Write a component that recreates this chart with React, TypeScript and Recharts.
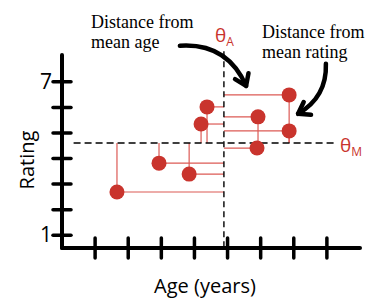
import {
  ComposedChart,
  XAxis,
  YAxis,
  Scatter,
  ReferenceLine,
  Customized,
} from "recharts";

const ages = [6.86, 4.38, 5.92, 4.2, 6.86, 5.89, 2.93, 3.84, 1.66];
const ratings = [6.49, 6.02, 5.63, 5.35, 5.08, 4.41, 3.82, 3.39, 2.69];
const meanAge = 4.89;
const meanRating = 4.61;
const ageTicks = [1, 2, 3, 4, 5, 6, 7, 8];
const ratingTicks = [1, 2, 3, 4, 5, 6, 7];
const labelledRatings = [1, 7];

// arrow annotations, in data units: [start, tip]
const arrowAges = [
  [3.56, 5.56],
  [7.97, 7.13],
];
const arrowRatings = [
  [8.41, 6.84],
  [7.71, 5.75],
];
const arrowBends = [-0.35, -0.3];

const points = ages.map((a, i) => ({ age: a, rating: ratings[i] }));

const RED = "#c9342d";
const LINE_RED = "#dc5a55";
const SANS = "'Open Sans', sans-serif";
const SERIF = "'Liberation Serif', serif";

const YTick = (props: any) => {
  const { x, y, payload } = props;
  return (
    <g>
      <line x1={x - 9} x2={x + 9} y1={y} y2={y} stroke="#000" strokeWidth={3.5} strokeLinecap="round" />
      {labelledRatings.includes(payload.value) && (
        <text x={x - 10} y={y + 7} textAnchor="end" fontSize={21} fontFamily={SANS} fill="#000">
          {payload.value}
        </text>
      )}
    </g>
  );
};

const XTick = (props: any) => {
  const { x, y } = props;
  return (
    <line x1={x} x2={x} y1={y - 10} y2={y + 10} stroke="#000" strokeWidth={3.5} strokeLinecap="round" />
  );
};

const Dot = (props: any) => <circle cx={props.cx} cy={props.cy} r={7.5} fill={RED} />;

const makeArrow = (bend: number) => (props: any) => {
  const { x1, y1, x2, y2 } = props;
  const dx = x2 - x1;
  const dy = y2 - y1;
  const cx = (x1 + x2) / 2 - dy * bend;
  const cy = (y1 + y2) / 2 + dx * bend;
  // direction at tip
  const tx = x2 - cx;
  const ty = y2 - cy;
  const len = Math.hypot(tx, ty);
  const ux = tx / len;
  const uy = ty / len;
  const h = 13;
  const ang = 0.6;
  const p1x = x2 - h * (ux * Math.cos(ang) - uy * Math.sin(ang));
  const p1y = y2 - h * (uy * Math.cos(ang) + ux * Math.sin(ang));
  const p2x = x2 - h * (ux * Math.cos(-ang) - uy * Math.sin(-ang));
  const p2y = y2 - h * (uy * Math.cos(-ang) + ux * Math.sin(-ang));
  return (
    <g>
      <path d={`M${x1},${y1} Q${cx},${cy} ${x2},${y2}`} fill="none" stroke="#000" strokeWidth={4.5} strokeLinecap="round" />
      <path d={`M${p1x},${p1y} L${x2},${y2} L${p2x},${p2y}`} fill="none" stroke="#000" strokeWidth={4.5} strokeLinecap="round" strokeLinejoin="round" />
    </g>
  );
};

const Annotations = () => (
  <g>
    <text x={91} y={28} fontSize={18} fontFamily={SERIF} fill="#000">Distance from</text>
    <text x={91} y={48} fontSize={18} fontFamily={SERIF} fill="#000">mean age</text>
    <text x={262} y={38} fontSize={18} fontFamily={SERIF} fill="#000">Distance from</text>
    <text x={262} y={58} fontSize={18} fontFamily={SERIF} fill="#000">mean rating</text>
    <text x={215} y={42} fontSize={19} fontFamily={SANS} fill={RED}>
      θ<tspan dy={4} fontSize={12}>A</tspan>
    </text>
    <text x={340} y={152} fontSize={19} fontFamily={SANS} fill={RED}>
      θ<tspan dy={4} fontSize={12}>M</tspan>
    </text>
    <text x={205} y={293} textAnchor="middle" fontSize={20} fontFamily={SANS} fill="#000">Age (years)</text>
    <text x={34} y={160} textAnchor="middle" fontSize={20} fontFamily={SANS} fill="#000" transform="rotate(-90 34 160)">Rating</text>
  </g>
);

export default function App() {
  return (
    <div style={{ position: "absolute", left: 0, top: 0 }}>
      <ComposedChart
        width={382}
        height={299}
        data={points}
        margin={{ top: 55, right: 22, left: 22, bottom: 21 }}
      >
        <XAxis
          type="number"
          dataKey="age"
          domain={[0, 9]}
          ticks={ageTicks}
          height={30}
          tickSize={0}
          tickMargin={0}
          tickLine={false}
          tick={<XTick />}
          axisLine={{ stroke: "#000", strokeWidth: 4, strokeLinecap: "round" }}
        />
        <YAxis
          type="number"
          dataKey="rating"
          domain={[0.5, 8.05]}
          ticks={ratingTicks}
          width={40}
          tickSize={0}
          tickMargin={0}
          tickLine={false}
          tick={<YTick />}
          axisLine={{ stroke: "#000", strokeWidth: 4, strokeLinecap: "round" }}
        />
        {points.map((p, i) => (
          <ReferenceLine
            key={`h${i}`}
            segment={[{ x: p.age, y: p.rating }, { x: meanAge, y: p.rating }]}
            stroke={LINE_RED}
            strokeWidth={1.2}
          />
        ))}
        {points.map((p, i) => (
          <ReferenceLine
            key={`v${i}`}
            segment={[{ x: p.age, y: p.rating }, { x: p.age, y: meanRating }]}
            stroke={LINE_RED}
            strokeWidth={1.2}
          />
        ))}
        <ReferenceLine
          segment={[{ x: meanAge, y: 8.2 }, { x: meanAge, y: 0.5 }]}
          ifOverflow="visible"
          stroke="#000"
          strokeWidth={1.4}
          strokeDasharray="6 4"
        />
        <ReferenceLine
          segment={[{ x: 0.35, y: meanRating }, { x: 8.25, y: meanRating }]}
          stroke="#000"
          strokeWidth={1.4}
          strokeDasharray="7 4"
        />
        {arrowAges.map((a, i) => (
          <ReferenceLine
            key={`a${i}`}
            segment={[{ x: a[0], y: arrowRatings[i][0] }, { x: a[1], y: arrowRatings[i][1] }]}
            ifOverflow="visible"
            shape={makeArrow(arrowBends[i])}
          />
        ))}
        <Scatter dataKey="rating" shape={<Dot />} isAnimationActive={false} />
        <Customized component={Annotations} />
      </ComposedChart>
    </div>
  );
}
